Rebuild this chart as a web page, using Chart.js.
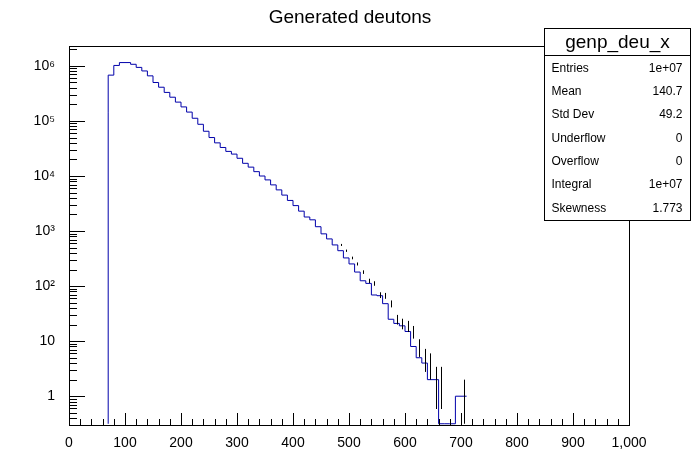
<!DOCTYPE html>
<html>
<head>
<meta charset="utf-8">
<script src="https://cdn.jsdelivr.net/npm/chart.js@4"></script>
<style>
  body { margin: 0; background: #fff; }
  #wrap { width: 698px; height: 474px; }
</style>
</head>
<body>
<div id="wrap"><canvas id="histo" width="698" height="474"></canvas></div>
<script>
// bins of width 10, first bin starts at 70
const binStart = 70;
const binWidth = 10;
const counts = [
  145000, 680000, 1020000, 1150000, 1150000, 1070000, 940000, 810000, 660000, 500000,
  410000, 330000, 270000, 220000, 180000, 145000, 112000, 87000, 65000, 50000,
  40000, 33000, 28000, 25000, 21000, 17000, 14500, 12000, 10000, 8500,
  6900, 5600, 4500, 3600, 2900, 2300, 1800, 1600, 1200, 890,
  720, 560, 440, 325, 253, 180, 125, 112, 69, 67,
  48, 25, 21, 19, 15, 8, 5, 4, 2, 2,
  0, 0, 0, 1
];
const xTicks = [0, 100, 200, 300, 400, 500, 600, 700, 800, 900, 1000];
const yMin = 0.316, yMax = 2.3e6;
const statLabels = ["Entries", "Mean", "Std Dev", "Underflow", "Overflow", "Integral", "Skewness"];
const statValues = ["1e+07", "140.7", "49.2", "0", "0", "1e+07", "1.773"];

const sup = { "2": "\u00b2", "3": "\u00b3", "4": "\u2074", "5": "\u2075", "6": "\u2076" };

const points = counts.map((c, i) => ({ x: binStart + i * binWidth, y: c > 0 ? c : yMin }));
points.push({ x: binStart + counts.length * binWidth, y: points[points.length - 1].y });
points.unshift({ x: binStart, y: yMin });

const font = "Liberation Sans, Arial, sans-serif";

const rootDecor = {
  id: "rootDecor",
  afterDraw(chart) {
    const ctx = chart.ctx, a = chart.chartArea;
    const xs = chart.scales.x, ys = chart.scales.y;
    ctx.save();
    // error bars
    ctx.strokeStyle = "#000";
    ctx.lineWidth = 1;
    counts.forEach((c, i) => {
      if (c <= 0) return;
      const e = Math.sqrt(c);
      const px = Math.round(xs.getPixelForValue(binStart + (i + 0.5) * binWidth)) + 0.5;
      const lo = Math.max(c - e, yMin);
      const y1 = ys.getPixelForValue(c + e), y2 = ys.getPixelForValue(lo);
      if (y2 - y1 < 2) return;
      ctx.beginPath(); ctx.moveTo(px, Math.max(y1, a.top)); ctx.lineTo(px, Math.min(y2, a.bottom)); ctx.stroke();
    });
    // frame
    ctx.strokeStyle = "#000";
    ctx.strokeRect(a.left + 0.5, a.top + 0.5, a.right - a.left, a.bottom - a.top);
    // x ticks (inward)
    ctx.beginPath();
    for (let v = 0; v <= 1000; v += 20) {
      const px = Math.round(xs.getPixelForValue(v)) + 0.5;
      const len = v % 100 === 0 ? 12 : 6;
      ctx.moveTo(px, a.bottom); ctx.lineTo(px, a.bottom - len);
    }
    // y ticks
    for (let d = -1; d <= 6; d++) {
      for (let m = 1; m <= 9; m++) {
        const v = m * Math.pow(10, d);
        if (v < yMin || v > yMax) continue;
        const py = Math.round(ys.getPixelForValue(v)) + 0.5;
        const len = m === 1 ? 16 : 8;
        ctx.moveTo(a.left, py); ctx.lineTo(a.left + len, py);
      }
    }
    ctx.stroke();
    // title
    ctx.fillStyle = "#000";
    ctx.font = "19px " + font;
    ctx.textAlign = "center"; ctx.textBaseline = "middle";
    ctx.fillText("Generated deutons", 350, 18);
    // stats box
    const bx = 544.5, by = 28.5, bw = 146, bh = 192;
    ctx.fillStyle = "#fff";
    ctx.fillRect(bx, by, bw, bh);
    ctx.strokeRect(bx, by, bw, bh);
    ctx.beginPath(); ctx.moveTo(bx, by + 27); ctx.lineTo(bx + bw, by + 27); ctx.stroke();
    ctx.fillStyle = "#000";
    ctx.font = "19px " + font;
    ctx.fillText("genp_deu_x", bx + bw / 2, by + 14);
    ctx.font = "12px " + font;
    statLabels.forEach((l, i) => {
      const ty = by + 40 + i * 23.3;
      ctx.textAlign = "left"; ctx.fillText(l, bx + 7, ty);
      ctx.textAlign = "right"; ctx.fillText(statValues[i], bx + bw - 8, ty);
    });
    ctx.restore();
  }
};

new Chart(document.getElementById("histo"), {
  type: "line",
  data: {
    datasets: [{
      data: points,
      stepped: "after",
      borderColor: "#0000aa",
      borderWidth: 1,
      pointRadius: 0,
      fill: false
    }]
  },
  options: {
    responsive: false,
    animation: false,
    layout: { padding: { top: 46, right: 69, left: 0, bottom: 0 } },
    plugins: { legend: { display: false }, tooltip: { enabled: false } },
    scales: {
      x: {
        type: "linear", min: 0, max: 1000,
        afterFit(s) { s.height = 49; },
        afterBuildTicks(s) { s.ticks = xTicks.map(v => ({ value: v })); },
        grid: { display: false },
        border: { display: false },
        ticks: { color: "#000", font: { size: 14, family: font }, maxRotation: 0, padding: 2 }
      },
      y: {
        type: "logarithmic", min: yMin, max: yMax,
        afterFit(s) { s.width = 69; },
        afterBuildTicks(s) { s.ticks = [1, 10, 100, 1000, 1e4, 1e5, 1e6].map(v => ({ value: v })); },
        grid: { display: false },
        border: { display: false },
        ticks: {
          color: "#000", font: { size: 14, family: font }, padding: 6,
          callback(v) {
            if (v === 1) return "1";
            if (v === 10) return "10";
            const e = Math.round(Math.log10(v));
            return "10" + sup[String(e)];
          }
        }
      }
    }
  },
  plugins: [rootDecor]
});
</script>
</body>
</html>
